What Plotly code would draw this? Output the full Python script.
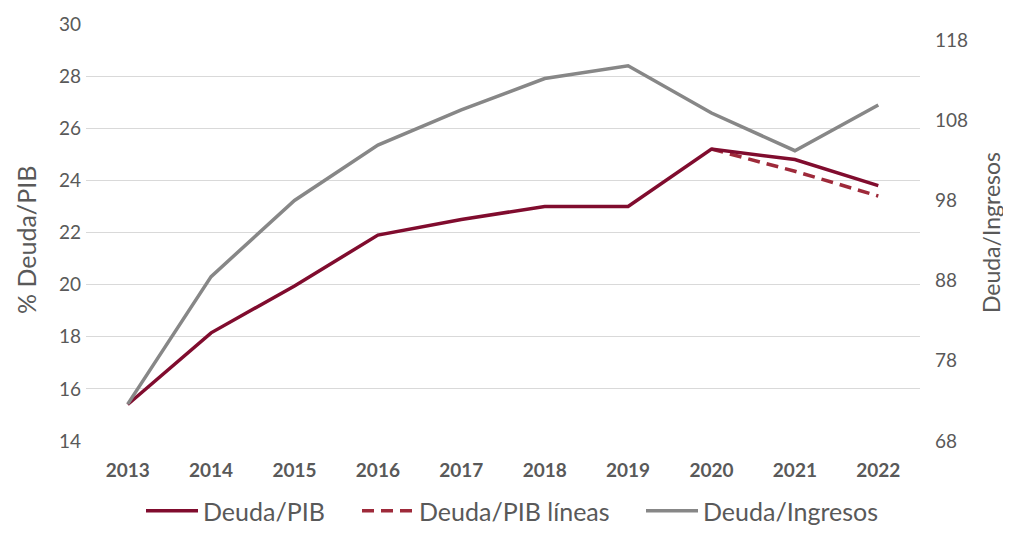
import plotly.graph_objects as go

years = ["2013", "2014", "2015", "2016", "2017", "2018", "2019", "2020", "2021", "2022"]
deuda_pib = [15.4, 18.15, 19.95, 21.9, 22.5, 23.0, 23.0, 25.2, 24.8, 23.8]
deuda_pib_lineas_years = ["2020", "2021", "2022"]
deuda_pib_lineas = [25.2, 24.35, 23.4]
deuda_ingresos = [72.6, 88.5, 98.0, 104.9, 109.3, 113.2, 114.8, 108.9, 104.2, 109.9]

left_ticks = [14, 16, 18, 20, 22, 24, 26, 28, 30]
right_ticks = [68, 78, 88, 98, 108, 118]

FONT = "Lato, 'Open Sans', sans-serif"
TXT = "#595959"
RED = "#800C2E"
RED_D = "#9E2A3A"
GRAY = "#878787"

fig = go.Figure()
fig.add_trace(go.Scatter(x=deuda_pib_lineas_years, y=deuda_pib_lineas, mode="lines",
                         name="Deuda/PIB líneas",
                         line=dict(color=RED_D, width=3.5, dash="12px,7px"),
                         yaxis="y", legend="legend2"))
fig.add_trace(go.Scatter(x=years, y=deuda_pib, mode="lines", name="Deuda/PIB",
                         line=dict(color=RED, width=3.5), yaxis="y", legend="legend"))
fig.add_trace(go.Scatter(x=years, y=deuda_ingresos, mode="lines", name="Deuda/Ingresos",
                         line=dict(color=GRAY, width=3.5), yaxis="y2", legend="legend3"))

PW = 834.0
def leg(xs):
    return dict(orientation="h", x=(xs - 86) / PW, xanchor="left", yref="container",
                y=0.0, yanchor="bottom", font=dict(size=25, color=TXT, family=FONT),
                itemwidth=52, bgcolor="rgba(0,0,0,0)")

fig.update_layout(
    width=1003, height=526,
    margin=dict(l=78, r=91, t=16, b=93, autoexpand=False),
    paper_bgcolor="white", plot_bgcolor="white",
    font=dict(family=FONT, color=TXT),
    showlegend=True,
    legend=leg(141), legend2=leg(357), legend3=leg(641),
    xaxis=dict(type="category", categoryorder="array", categoryarray=years,
               showgrid=False, showline=False, zeroline=False, automargin=False,
               tickfont=dict(size=19, color=TXT, family=FONT), ticks="",
               ticklabelstandoff=16,
               tickprefix="<b>", ticksuffix="</b>", range=[-0.5, 9.5]),
    yaxis=dict(range=[14, 30], tickvals=left_ticks, showgrid=True, gridcolor="#D9D9D9",
               gridwidth=1.3, zeroline=False, showline=False, ticks="", automargin=False,
               tickfont=dict(size=19, color=TXT), ticklabelstandoff=4),
    yaxis2=dict(range=[68, 120], tickvals=right_ticks, overlaying="y", side="right",
                showgrid=False, zeroline=False, showline=False, ticks="", automargin=False,
                tickfont=dict(size=19, color=TXT), ticklabelstandoff=14),
    annotations=[
        dict(text="% Deuda/PIB", xref="paper", yref="paper", x=(26 - 86) / PW, y=0.482,
             xanchor="center", yanchor="middle", textangle=-90, showarrow=False,
             font=dict(size=25, color=TXT)),
        dict(text="Deuda/Ingresos", xref="paper", yref="paper", x=1 + (991 - 920) / PW,
             y=0.501, xanchor="center", yanchor="middle", textangle=-90, showarrow=False,
             font=dict(size=23, color=TXT)),
    ],
)

fig.write_html("out.html")
